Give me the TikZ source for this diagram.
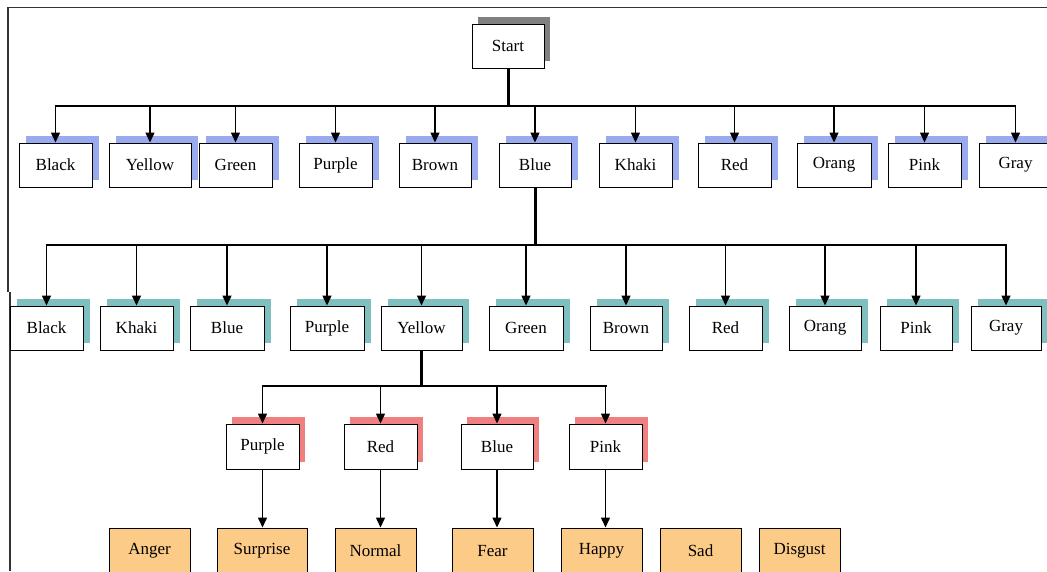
\documentclass[tikz,border=0pt]{standalone}
\usepackage{fontspec}
\setmainfont{Liberation Serif}
\newfontfamily\boxfont{Liberation Serif}
\usetikzlibrary{arrows.meta,shadows}
\definecolor{shblue}{HTML}{9AAAEE}
\definecolor{shteal}{HTML}{80BFBF}
\definecolor{shred}{HTML}{F08080}
\definecolor{shgray}{HTML}{808080}
\definecolor{emofill}{HTML}{FCCB87}
\definecolor{framec}{HTML}{333333}
\begin{document}
\begin{tikzpicture}[x=1pt,y=-1pt,
  bx/.style={draw=black, line width=1pt, fill=white, minimum height=44pt, inner sep=0pt, font=\boxfont\fontsize{17}{19}\selectfont},
  sroot/.style={bx, general shadow={fill=shgray, shadow xshift=6pt, shadow yshift=7pt}},
  sone/.style={bx, general shadow={fill=shblue, shadow xshift=7pt, shadow yshift=7pt}},
  stwo/.style={bx, general shadow={fill=shteal, shadow xshift=7pt, shadow yshift=7pt}},
  sthree/.style={bx, minimum height=45pt, general shadow={fill=shred, shadow xshift=6pt, shadow yshift=7pt}},
  emo/.style={bx, fill=emofill, minimum height=46pt},
  arr/.style={line width=1.5pt, -{Triangle[length=10pt,width=9pt]}},
  trunk/.style={line width=3pt},
  busthick/.style={line width=2.6pt},
  bus/.style={line width=2pt},
  frame/.style={draw=framec, line width=1.2pt}
]
\useasboundingbox (0,0) rectangle (1047,571);
\clip (0,0) rectangle (1047,571);
\fill[white] (0,0) rectangle (1047,571);
\draw[frame] (8,292) -- (8,7.5) -- (1047,7.5);
\draw[frame] (10,292) -- (10,571);

% root
\node[sroot, minimum width=72pt] (st) at (508,46) {Start};

% row 1
\node[sone, minimum width=73pt] (a1) at (55.5,165) {Black};
\node[sone, minimum width=82pt] (a2) at (150,165) {Yellow};
\node[sone, minimum width=73pt] (a3) at (235.5,165) {Green};
\node[sone, minimum width=73pt] (a4) at (335.5,165) {Purple};
\node[sone, minimum width=72pt] (a5) at (435,165) {Brown};
\node[sone, minimum width=72pt] (a6) at (535,165) {Blue};
\node[sone, minimum width=73pt] (a7) at (635.5,165) {Khaki};
\node[sone, minimum width=73pt] (a8) at (734.5,165) {Red};
\node[sone, minimum width=74pt] (a9) at (834,165) {Orang};
\node[sone, minimum width=73pt] (a10) at (924.5,165) {Pink};
\node[sone, minimum width=73pt] (a11) at (1015.5,165) {Gray};

% row 2
\node[stwo, minimum width=73pt] (b1) at (46.5,328) {Black};
\node[stwo, minimum width=73pt] (b2) at (136.5,328) {Khaki};
\node[stwo, minimum width=74pt] (b3) at (227,328) {Blue};
\node[stwo, minimum width=74pt] (b4) at (327,328) {Purple};
\node[stwo, minimum width=81pt] (b5) at (421.5,328) {Yellow};
\node[stwo, minimum width=74pt] (b6) at (526,328) {Green};
\node[stwo, minimum width=72pt] (b7) at (626,328) {Brown};
\node[stwo, minimum width=73pt] (b8) at (725.5,328) {Red};
\node[stwo, minimum width=72pt] (b9) at (825,328) {Orang};
\node[stwo, minimum width=72pt] (b10) at (916,328) {Pink};
\node[stwo, minimum width=70pt] (b11) at (1006,328) {Gray};

% row 3
\node[sthree, minimum width=73pt] (c1) at (262.5,446.5) {Purple};
\node[sthree, minimum width=73pt] (c2) at (380.5,446.5) {Red};
\node[sthree, minimum width=72pt] (c3) at (497,446.5) {Blue};
\node[sthree, minimum width=73pt] (c4) at (605.5,446.5) {Pink};

% row 4
\node[emo, minimum width=81pt] (d1) at (149.5,551) {Anger};
\node[emo, minimum width=90pt] (d2) at (262,551) {Surprise};
\node[emo, minimum width=81pt] (d3) at (375.5,551) {Normal};
\node[emo, minimum width=81pt] (d4) at (492.5,551) {Fear};
\node[emo, minimum width=81pt] (d5) at (601.5,551) {Happy};
\node[emo, minimum width=81pt] (d6) at (700.5,551) {Sad};
\node[emo, minimum width=81pt] (d7) at (799.5,551) {Disgust};

% bus coordinates
\coordinate (j1a) at (54.5,106);
\coordinate (j1b) at (1016,106);
\coordinate (j2a) at (45.5,245);
\coordinate (j2b) at (1007,245);
\coordinate (j3a) at (262,386);
\coordinate (j3b) at (607,386);

% level 1 connectors
\draw[trunk] (st.south) -- (st.south |- j1a);
\draw[busthick] (j1a) -- (j1b);
\foreach \n in {a1,a2,a3,a4,a5,a6,a7,a8,a9,a10,a11}
  \draw[arr] (\n.north |- j1a) -- (\n.north);

% level 2 connectors
\draw[trunk] (a6.south) -- (a6.south |- j2a);
\draw[bus] (j2a) -- (j2b);
\foreach \n in {b1,b2,b3,b4,b5,b6,b7,b8,b9,b10,b11}
  \draw[arr] (\n.north |- j2a) -- (\n.north);

% level 3 connectors
\draw[trunk] (b5.south) -- (b5.south |- j3a);
\draw[bus] (j3a) -- (j3b);
\foreach \n in {c1,c2,c3,c4}
  \draw[arr] (\n.north |- j3a) -- (\n.north);

% level 4 connectors
\draw[arr] (c1.south) -- (c1.south |- d2.north);
\draw[arr] (c2.south) -- (c2.south |- d3.north);
\draw[arr] (c3.south) -- (c3.south |- d4.north);
\draw[arr] (c4.south) -- (c4.south |- d5.north);
\end{tikzpicture}
\end{document}
